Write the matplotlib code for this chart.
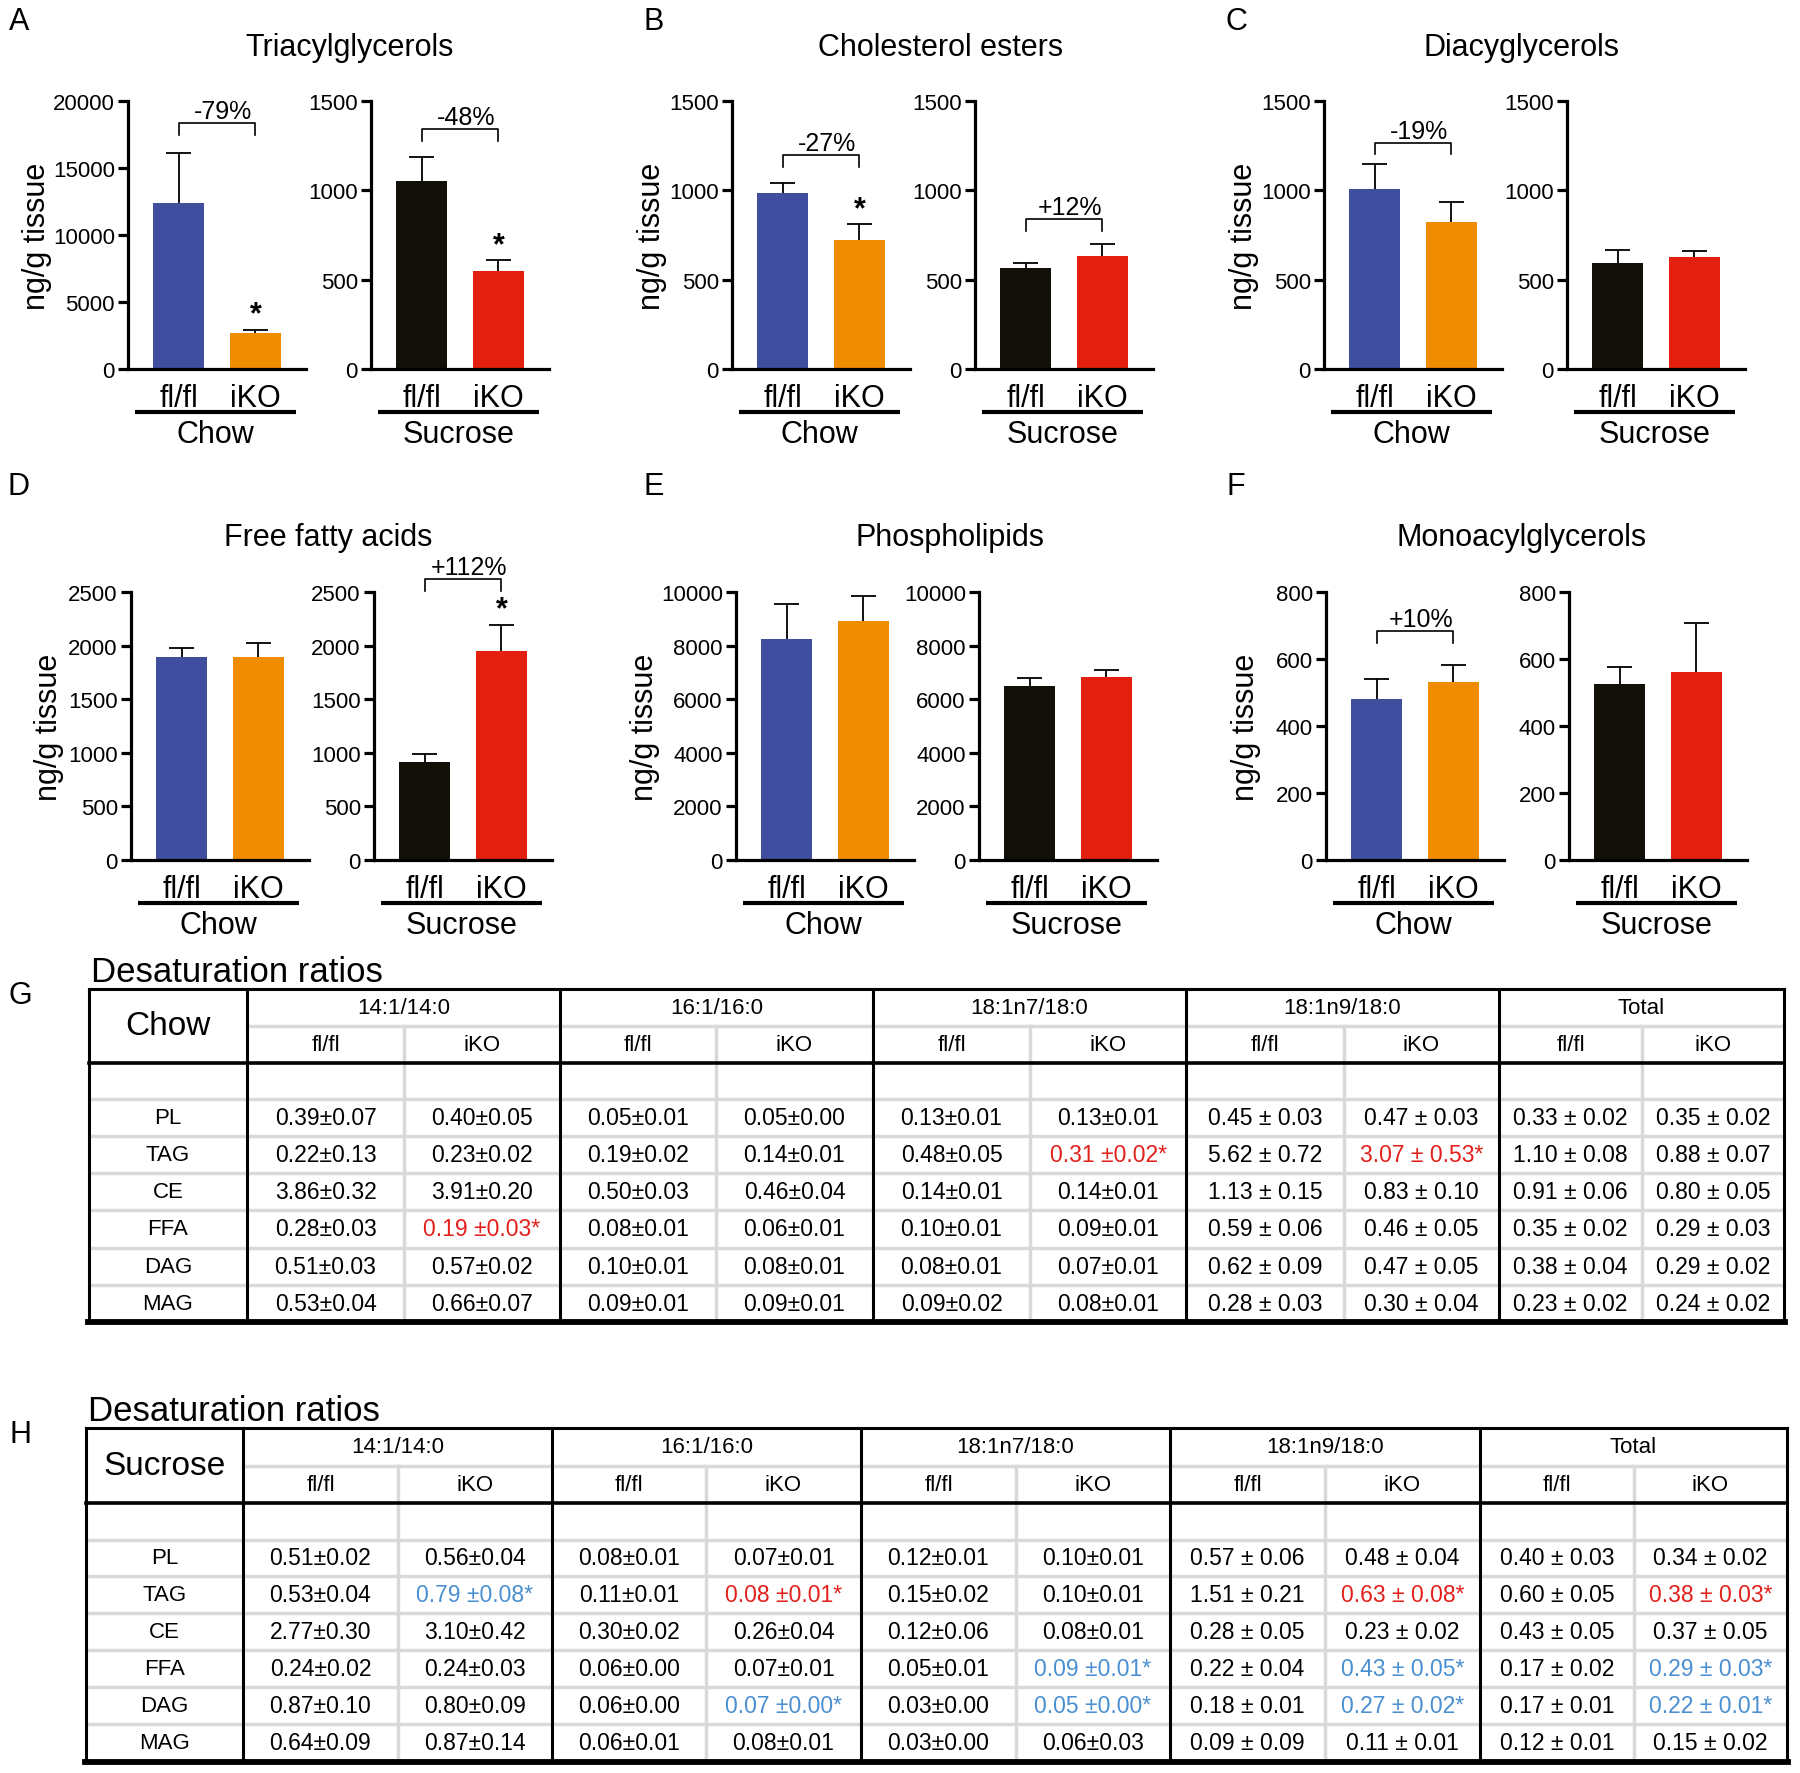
import matplotlib
matplotlib.use('Agg')
import matplotlib.pyplot as plt
import numpy as np

plt.rcParams['font.family'] = ['Liberation Sans', 'DejaVu Sans']

W, H, DPI = 1800, 1774, 100

# ---------------- bar panels (ng/g tissue), order [fl/fl, iKO] ----------------
genotypes = ['fl/fl', 'iKO']
diets = ['Chow', 'Sucrose']
panel_titles = ['Triacylglycerols', 'Cholesterol esters', 'Diacyglycerols',
                'Free fatty acids', 'Phospholipids', 'Monoacylglycerols']
panel_letters = ['A', 'B', 'C', 'D', 'E', 'F']

chow_mean = [[12400, 2650], [986, 722], [1010, 825], [1894, 1894], [8230, 8915], [482, 531]]
chow_sem = [[3700, 280], [56, 88], [136, 112], [80, 133], [1310, 935], [58, 50]]
sucrose_mean = [[1050, 546], [564, 633], [593, 628], [914, 1947], [6510, 6810], [525, 561]]
sucrose_sem = [[135, 63], [32, 67], [74, 35], [72, 248], [287, 287], [50, 145]]

chow_ymax = [20000, 1500, 1500, 2500, 10000, 800]
chow_ystep = [5000, 500, 500, 500, 2000, 200]
sucrose_ymax = [1500, 1500, 1500, 2500, 10000, 800]
sucrose_ystep = [500, 500, 500, 500, 2000, 200]

chow_change = ['-79%', '-27%', '-19%', None, None, '+10%']
sucrose_change = ['-48%', '+12%', None, '+112%', None, None]
chow_signif = [True, True, False, False, False, False]
sucrose_signif = [True, False, False, True, False, False]

# ---------------- desaturation ratio tables ----------------
ratio_groups = ['14:1/14:0', '16:1/16:0', '18:1n7/18:0', '18:1n9/18:0', 'Total']
lipid_rows = ['PL', 'TAG', 'CE', 'FFA', 'DAG', 'MAG']
# columns: 14:1 fl, 14:1 iKO, 16:1 fl, 16:1 iKO, n7 fl, n7 iKO, n9 fl, n9 iKO, tot fl, tot iKO
chow_ratio_mean = [
    [0.39, 0.40, 0.05, 0.05, 0.13, 0.13, 0.45, 0.47, 0.33, 0.35],
    [0.22, 0.23, 0.19, 0.14, 0.48, 0.31, 5.62, 3.07, 1.10, 0.88],
    [3.86, 3.91, 0.50, 0.46, 0.14, 0.14, 1.13, 0.83, 0.91, 0.80],
    [0.28, 0.19, 0.08, 0.06, 0.10, 0.09, 0.59, 0.46, 0.35, 0.29],
    [0.51, 0.57, 0.10, 0.08, 0.08, 0.07, 0.62, 0.47, 0.38, 0.29],
    [0.53, 0.66, 0.09, 0.09, 0.09, 0.08, 0.28, 0.30, 0.23, 0.24],
]
chow_ratio_sem = [
    [0.07, 0.05, 0.01, 0.00, 0.01, 0.01, 0.03, 0.03, 0.02, 0.02],
    [0.13, 0.02, 0.02, 0.01, 0.05, 0.02, 0.72, 0.53, 0.08, 0.07],
    [0.32, 0.20, 0.03, 0.04, 0.01, 0.01, 0.15, 0.10, 0.06, 0.05],
    [0.03, 0.03, 0.01, 0.01, 0.01, 0.01, 0.06, 0.05, 0.02, 0.03],
    [0.03, 0.02, 0.01, 0.01, 0.01, 0.01, 0.09, 0.05, 0.04, 0.02],
    [0.04, 0.07, 0.01, 0.01, 0.02, 0.01, 0.03, 0.04, 0.02, 0.02],
]
# 0 = n.s., 1 = significant decrease (red), 2 = significant increase (blue)
chow_ratio_sig = [
    [0, 0, 0, 0, 0, 0, 0, 0, 0, 0],
    [0, 0, 0, 0, 0, 1, 0, 1, 0, 0],
    [0, 0, 0, 0, 0, 0, 0, 0, 0, 0],
    [0, 1, 0, 0, 0, 0, 0, 0, 0, 0],
    [0, 0, 0, 0, 0, 0, 0, 0, 0, 0],
    [0, 0, 0, 0, 0, 0, 0, 0, 0, 0],
]
sucrose_ratio_mean = [
    [0.51, 0.56, 0.08, 0.07, 0.12, 0.10, 0.57, 0.48, 0.40, 0.34],
    [0.53, 0.79, 0.11, 0.08, 0.15, 0.10, 1.51, 0.63, 0.60, 0.38],
    [2.77, 3.10, 0.30, 0.26, 0.12, 0.08, 0.28, 0.23, 0.43, 0.37],
    [0.24, 0.24, 0.06, 0.07, 0.05, 0.09, 0.22, 0.43, 0.17, 0.29],
    [0.87, 0.80, 0.06, 0.07, 0.03, 0.05, 0.18, 0.27, 0.17, 0.22],
    [0.64, 0.87, 0.06, 0.08, 0.03, 0.06, 0.09, 0.11, 0.12, 0.15],
]
sucrose_ratio_sem = [
    [0.02, 0.04, 0.01, 0.01, 0.01, 0.01, 0.06, 0.04, 0.03, 0.02],
    [0.04, 0.08, 0.01, 0.01, 0.02, 0.01, 0.21, 0.08, 0.05, 0.03],
    [0.30, 0.42, 0.02, 0.04, 0.06, 0.01, 0.05, 0.02, 0.05, 0.05],
    [0.02, 0.03, 0.00, 0.01, 0.01, 0.01, 0.04, 0.05, 0.02, 0.03],
    [0.10, 0.09, 0.00, 0.00, 0.00, 0.00, 0.01, 0.02, 0.01, 0.01],
    [0.09, 0.14, 0.01, 0.01, 0.00, 0.03, 0.09, 0.01, 0.01, 0.02],
]
sucrose_ratio_sig = [
    [0, 0, 0, 0, 0, 0, 0, 0, 0, 0],
    [0, 2, 0, 1, 0, 0, 0, 1, 0, 1],
    [0, 0, 0, 0, 0, 0, 0, 0, 0, 0],
    [0, 0, 0, 0, 0, 2, 0, 2, 0, 2],
    [0, 0, 0, 2, 0, 2, 0, 2, 0, 2],
    [0, 0, 0, 0, 0, 0, 0, 0, 0, 0],
]

# ---------------- styling / layout ----------------
chow_colors = ['#3f4e9e', '#f08c00']
sucrose_colors = ['#110f08', '#e2200d']
sig_colors = {0: 'black', 1: '#e3201b', 2: '#4a8fd1'}
GRAY = '#d9d9d9'

AX_W, AX_H = 178, 268
row_zero = [370, 370, 370, 861, 861, 861]
chow_left = [128, 732, 1324, 131, 736, 1326]
SUC_SHIFT = 243
ylabel_off = [91, 80, 80, 82, 91, 80]
title_xy = [(350, 48), (941, 48), (1522, 48), (328, 538), (950, 538), (1522, 538)]
letter_xy = [(19, 22), (654, 22), (1236, 22), (19, 487), (654, 487), (1236, 487)]
chow_bracket = [0.919, 0.798, 0.845, None, None, 0.853]
sucrose_bracket = [0.894, 0.558, None, 1.047, None, None]

fig = plt.figure(figsize=(W / DPI, H / DPI), dpi=DPI)
over = fig.add_axes([0, 0, 1, 1])
over.set_xlim(0, W)
over.set_ylim(H, 0)
over.axis('off')


def px_axes(left, top, width, height):
    ax = fig.add_axes([left / W, 1 - (top + height) / H, width / W, height / H])
    ax.set_facecolor('none')
    return ax


def bar_panel(ax, means, sems, colors, ymax, ystep, diet, change, bracket, signif):
    x = np.arange(len(means))
    means = np.array(means, dtype=float)
    tops = means + np.array(sems, dtype=float)
    ax.bar(x, means, width=0.66, color=colors, zorder=2)
    ax.vlines(x, means, tops, color='black', lw=1.3, zorder=3)
    ax.hlines(tops, x - 0.165, x + 0.165, color='black', lw=1.3, zorder=3)
    ax.set_xlim(-0.656, 1.656)
    ax.set_ylim(0, ymax)
    ax.set_yticks(np.arange(0, ymax + 1, ystep))
    ax.set_xticks([])
    for s in ['top', 'right']:
        ax.spines[s].set_visible(False)
    for s in ['left', 'bottom']:
        ax.spines[s].set_linewidth(2.3)
    ax.tick_params(axis='y', direction='out', length=7.5, width=2.3, pad=2, labelsize=16)
    tr = ax.get_xaxis_transform()
    for i, g in enumerate(genotypes):
        ax.text(x[i], -0.108, g, transform=tr, ha='center', va='center', fontsize=22)
    ax.plot([-0.56, 1.52], [-0.162, -0.162], transform=tr, color='black', lw=3,
            clip_on=False, solid_capstyle='butt')
    ax.text(0.48, -0.243, diet, transform=tr, ha='center', va='center', fontsize=22)
    if change is not None:
        ax.plot([0, 0, 1, 1], [bracket - 0.044, bracket, bracket, bracket - 0.044],
                transform=tr, color='black', lw=1.2, clip_on=False)
        ax.text(0.58, bracket + 0.0, change, transform=tr, ha='center', va='bottom',
                fontsize=18)
    if signif:
        ax.annotate('*', (x[1], tops[1]), xytext=(0, 0), textcoords='offset points',
                    ha='center', va='bottom', fontsize=22, fontweight='bold')


for p in range(6):
    top = row_zero[p] - AX_H
    ax_c = px_axes(chow_left[p], top, AX_W, AX_H)
    bar_panel(ax_c, chow_mean[p], chow_sem[p], chow_colors, chow_ymax[p], chow_ystep[p],
              diets[0], chow_change[p], chow_bracket[p], chow_signif[p])
    ax_c.text(-ylabel_off[p] / AX_W, 0.5, 'ng/g tissue', transform=ax_c.transAxes,
              rotation=90, ha='center', va='center', fontsize=22)
    ax_s = px_axes(chow_left[p] + SUC_SHIFT, top, AX_W, AX_H)
    bar_panel(ax_s, sucrose_mean[p], sucrose_sem[p], sucrose_colors, sucrose_ymax[p],
              sucrose_ystep[p], diets[1], sucrose_change[p], sucrose_bracket[p],
              sucrose_signif[p])
    over.text(title_xy[p][0], title_xy[p][1], panel_titles[p], ha='center', va='center',
              fontsize=22)
    over.text(letter_xy[p][0], letter_xy[p][1], panel_letters[p], ha='center', va='center',
              fontsize=22)


def draw_table(xe, ye, letter, diet, means, sems, sigs):
    left, right = xe[0], xe[-1]
    # light grey grid
    over.plot([xe[1], right], [ye[1], ye[1]], color=GRAY, lw=2.5)
    for y in ye[3:9]:
        over.plot([left, right], [y, y], color=GRAY, lw=2.5)
    for c in range(2, 11, 2):
        over.plot([xe[c], xe[c]], [ye[1], ye[9]], color=GRAY, lw=2.5)
    # black frame
    for c in range(1, 12, 2):
        over.plot([xe[c], xe[c]], [ye[0], ye[9]], color='black', lw=2.2)
    over.plot([left, left], [ye[0], ye[9]], color='black', lw=2.2)
    over.plot([left, right], [ye[0], ye[0]], color='black', lw=2.2)
    over.plot([left, right], [ye[2], ye[2]], color='black', lw=2.6)
    over.plot([left - 1, right + 1], [ye[9], ye[9]], color='black', lw=4.2)

    over.text(left + 2, ye[0] - 17, 'Desaturation ratios', ha='left', va='center',
              fontsize=25)
    over.text(20, ye[0] + 6, letter, ha='center', va='center', fontsize=22)
    over.text((xe[0] + xe[1]) / 2, (ye[0] + ye[2]) / 2, diet, ha='center', va='center',
              fontsize=24)
    for g, name in enumerate(ratio_groups):
        cx = (xe[1 + 2 * g] + xe[3 + 2 * g]) / 2
        over.text(cx, (ye[0] + ye[1]) / 2, name, ha='center', va='center', fontsize=16)
        for k, geno in enumerate(genotypes):
            c0 = 1 + 2 * g + k
            over.text((xe[c0] + xe[c0 + 1]) / 2, (ye[1] + ye[2]) / 2, geno, ha='center',
                      va='center', fontsize=16)
    for r, lab in enumerate(lipid_rows):
        cy = (ye[3 + r] + ye[4 + r]) / 2
        over.text((xe[0] + xe[1]) / 2, cy, lab, ha='center', va='center', fontsize=16)
        for c in range(10):
            m, s, sg = means[r][c], sems[r][c], sigs[r][c]
            spaced = c >= 6
            if sg:
                txt = f'{m:.2f} ± {s:.2f}*' if spaced else f'{m:.2f} ±{s:.2f}*'
            else:
                txt = f'{m:.2f} ± {s:.2f}' if spaced else f'{m:.2f}±{s:.2f}'
            over.text((xe[c + 1] + xe[c + 2]) / 2, cy, txt, ha='center', va='center',
                      fontsize=16.5, color=sig_colors[sg])


g_xe = [89, 247, 404, 560, 716, 873, 1030, 1186, 1344, 1499, 1642, 1784]
g_ye = [990, 1027, 1064, 1100, 1137, 1174, 1211, 1249, 1286, 1323]
h_xe = [86, 243, 398, 552, 706, 861, 1016, 1170, 1325, 1480, 1634, 1787]
h_ye = [1429, 1467, 1504, 1541, 1577, 1614, 1651, 1688, 1725, 1763]

draw_table(g_xe, g_ye, 'G', diets[0], chow_ratio_mean, chow_ratio_sem, chow_ratio_sig)
draw_table(h_xe, h_ye, 'H', diets[1], sucrose_ratio_mean, sucrose_ratio_sem,
           sucrose_ratio_sig)

fig.savefig('out.png', dpi=DPI)
